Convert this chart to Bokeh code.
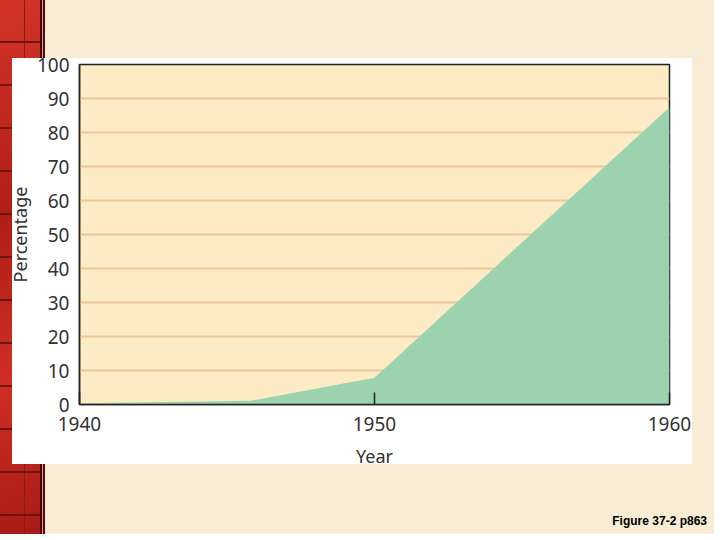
from bokeh.plotting import figure
from bokeh.models import FixedTicker, Range1d, Div
from bokeh.layouts import column
from bokeh.embed import file_html
from bokeh.resources import INLINE

years = [1940, 1945.8, 1950, 1960]
percentage = [0.4, 1.1, 7.9, 87.4]
x_ticks = [1940, 1950, 1960]
y_ticks = [0, 10, 20, 30, 40, 50, 60, 70, 80, 90, 100]

FONT = "Noto Sans"

p = figure(width=704, height=500, output_backend="svg", toolbar_location=None,
           x_range=Range1d(1940, 1960), y_range=Range1d(0, 100),
           min_border_left=79, min_border_right=35, min_border_top=64, min_border_bottom=96)

p.border_fill_color = None
p.outline_line_color = "#222222"
p.outline_line_width = 1.5
p.background_fill_color = "#fdebc6"

p.varea(x=years, y1=0, y2=percentage, fill_color="#9dd2ae", fill_alpha=1.0)

p.xgrid.grid_line_color = None
p.ygrid.ticker = FixedTicker(ticks=y_ticks)
p.ygrid.grid_line_color = "#ebc696"
p.ygrid.grid_line_width = 2

p.xaxis.ticker = FixedTicker(ticks=x_ticks)
p.yaxis.ticker = FixedTicker(ticks=y_ticks)

for ax in (p.xaxis, p.yaxis):
    ax.major_label_text_font = FONT
    ax.major_label_text_font_size = "19px"
    ax.major_label_text_color = "#333333"
    ax.axis_label_text_font = FONT
    ax.axis_label_text_font_size = "18px"
    ax.axis_label_text_color = "#333333"
    ax.axis_label_text_font_style = "normal"
    ax.minor_tick_line_color = None
    ax.axis_line_color = "#222222"
    ax.axis_line_width = 1.5

p.xaxis.axis_label = "Year"
p.xaxis.major_tick_in = 12
p.xaxis.major_tick_out = 0
p.xaxis.major_tick_line_color = "#222222"
p.xaxis.major_tick_line_width = 1.5
p.xaxis.major_label_standoff = 12
p.xaxis.axis_label_standoff = 10

p.yaxis.axis_label = "Percentage"
p.yaxis.major_tick_in = 0
p.yaxis.major_tick_out = 0
p.yaxis.major_tick_line_color = None
p.yaxis.major_label_standoff = 10
p.yaxis.axis_label_standoff = 2

note = Div(text="Figure 37-2 p863", width=704, height=24,
           styles={"font-family": "Liberation Sans", "font-weight": "bold",
                   "font-size": "12px", "line-height": "14px", "color": "#000000",
                   "text-align": "right", "padding-top": "9px", "padding-right": "2px",
                   "box-sizing": "border-box"})

page = column(p, note, spacing=0)
page.stylesheets = [""":host {
  background:
    linear-gradient(#ffffff, #ffffff) 12px 58px / 680px 406px no-repeat,
    linear-gradient(90deg, transparent 0px, transparent 40px, #3a0605 40px, #3a0605 42px, #e79a94 42px, #e79a94 43px, #5a0a08 43px, #5a0a08 45px, transparent 45px) 0 0 / 45px 100% no-repeat,
    repeating-linear-gradient(180deg, transparent 0px, transparent 41px, #6e1410 41px, #6e1410 43px) 0 0 / 40px 100% no-repeat,
    linear-gradient(90deg, transparent 0px, transparent 24px, #8a1a14 24px, #8a1a14 25px, transparent 25px) 0 0 / 40px 100% no-repeat,
    linear-gradient(160deg, #d33428, #b01e18 40%, #cf2e26 70%, #a81b14) 0 0 / 40px 100% no-repeat,
    #f8edd4;
}"""]

open("out.html", "w").write(file_html(page, INLINE))
